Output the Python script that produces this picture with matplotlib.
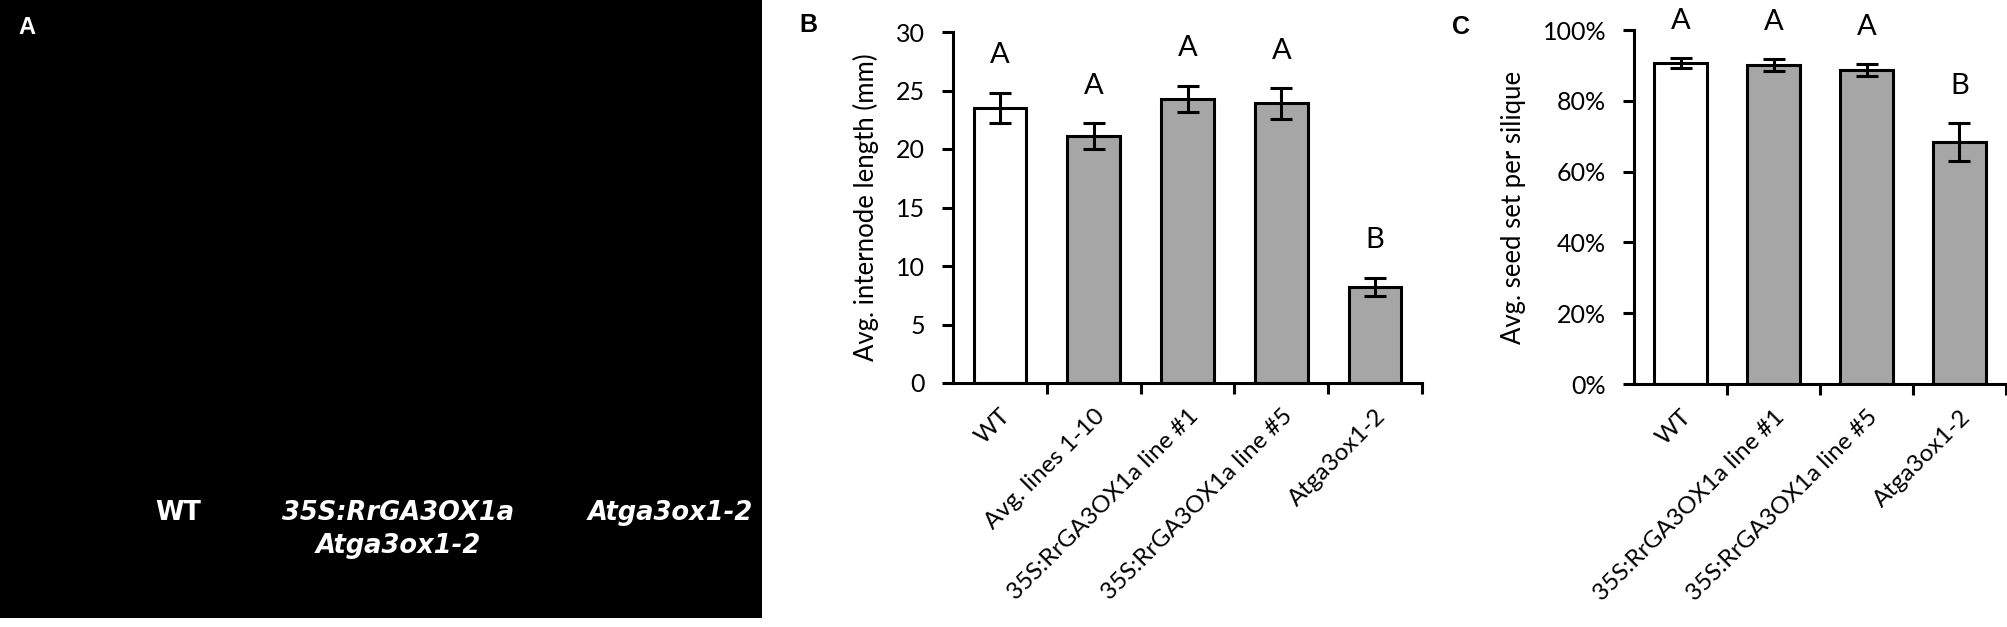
import matplotlib.pyplot as plt
from matplotlib.ticker import PercentFormatter

# Panel B data
b_groups = ['WT', 'Avg. lines 1-10', '35S:RrGA3OX1a line #1',
            '35S:RrGA3OX1a line #5', 'Atga3ox1-2']
b_means = [23.5, 21.1, 24.3, 23.9, 8.2]
b_errs = [1.3, 1.1, 1.1, 1.3, 0.8]
b_letters = ['A', 'A', 'A', 'A', 'B']

# Panel C data
c_groups = ['WT', '35S:RrGA3OX1a line #1', '35S:RrGA3OX1a line #5', 'Atga3ox1-2']
c_means = [0.907, 0.901, 0.887, 0.684]
c_errs = [0.013, 0.017, 0.017, 0.053]
c_letters = ['A', 'A', 'A', 'B']

# Panel A labels
a_labels = ['WT', '35S:RrGA3OX1a\nAtga3ox1-2', 'Atga3ox1-2']

W, H = 2008, 627
fig = plt.figure(figsize=(W / 100, H / 100), dpi=100)
plt.rcParams['font.family'] = ['Lato', 'DejaVu Sans']

GRAY = '#a6a6a6'
LW = 2.2


def style_axes(ax):
    for s in ['top', 'right']:
        ax.spines[s].set_visible(False)
    for s in ['left', 'bottom']:
        ax.spines[s].set_linewidth(LW)
    ax.tick_params(axis='both', width=LW, length=8, labelsize=18, direction='out')
    ax.tick_params(axis='y', pad=12)


def bar_panel(ax, groups, means, errs, letters, letter_off):
    xs = list(range(len(groups)))
    colors = ['white'] + [GRAY] * (len(groups) - 1)
    ax.bar(xs, means, width=0.56, color=colors, edgecolor='black', linewidth=LW, zorder=2)
    ax.errorbar(xs, means, yerr=errs, fmt='none', ecolor='black', elinewidth=LW,
                capsize=8, capthick=LW, zorder=3)
    for x, m, e, t in zip(xs, means, errs, letters):
        ax.text(x, m + e + letter_off, t, ha='center', va='center', fontsize=21,
                clip_on=False)
    ax.set_xlim(-0.5, len(groups) - 0.5)
    # boundaries carry the tick marks, centres carry the labels
    ax.set_xticks([i + 0.5 for i in range(len(groups))])
    ax.set_xticks(xs, minor=True)
    ax.set_xticklabels([])
    ax.set_xticklabels(groups, minor=True, rotation=45, ha='right',
                       rotation_mode='anchor', fontsize=17.5)
    ax.tick_params(axis='x', which='minor', length=0, pad=16)
    ax.tick_params(axis='x', which='major', length=12)
    style_axes(ax)


# Panel A: photo area (black background with labels)
axA = fig.add_axes([0, 9 / H, 762 / W, 1 - 9 / H])
axA.set_facecolor('black')
axA.set_xticks([])
axA.set_yticks([])
for s in axA.spines.values():
    s.set_visible(False)
axA.set_xlim(0, 762)
axA.set_ylim(618, 0)
for xp, lab in zip([178, 398, 670], a_labels):
    style = 'normal' if lab == 'WT' else 'italic'
    axA.text(xp, 500, lab, color='white', ha='center', va='top', fontsize=18.5,
             fontweight='bold', style=style, family='DejaVu Sans', linespacing=1.35)
fig.text(27 / W, 1 - 27 / H, 'A', color='white', fontsize=17, fontweight='bold',
         family='Liberation Sans', ha='center', va='center')

# Panel B
axB = fig.add_axes([953 / W, 1 - 383 / H, (1422 - 953) / W, (383 - 32) / H])
bar_panel(axB, b_groups, b_means, b_errs, b_letters, 3.2)
axB.set_ylim(0, 30)
axB.set_yticks(range(0, 31, 5))
axB.set_ylabel('Avg. internode length (mm)', fontsize=18.5, labelpad=12)
fig.text(808 / W, 1 - 25 / H, 'B', fontsize=18, fontweight='bold',
         family='Liberation Sans', ha='center', va='center')

# Panel C
axC = fig.add_axes([1634 / W, 1 - 384 / H, (2006 - 1634) / W, (384 - 30) / H])
bar_panel(axC, c_groups, c_means, c_errs, c_letters, 0.105)
axC.set_ylim(0, 1)
axC.set_yticks([i / 5 for i in range(6)])
axC.yaxis.set_major_formatter(PercentFormatter(1.0, decimals=0))
axC.set_ylabel('Avg. seed set per silique', fontsize=18.5, labelpad=12)
fig.text(1461 / W, 1 - 27 / H, 'C', fontsize=18, fontweight='bold',
         family='Liberation Sans', ha='center', va='center')

fig.savefig('out.png', dpi=100, facecolor='white')
